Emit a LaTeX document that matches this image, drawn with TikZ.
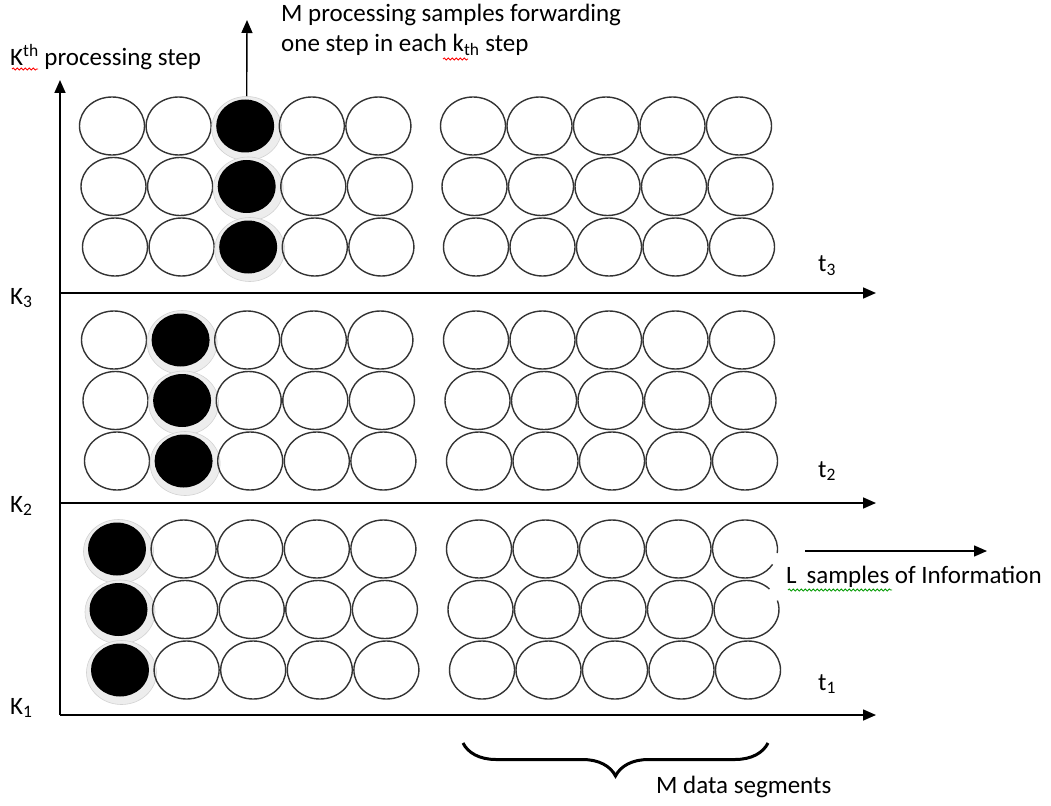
\documentclass[tikz,border=0pt]{standalone}
\usepackage{fontspec}
\setmainfont{Carlito}
\usetikzlibrary{arrows.meta,shapes.geometric,decorations.pathreplacing,decorations.pathmorphing}
\begin{document}
\begin{tikzpicture}[x=1pt,y=-1pt,
  cell/.style={ellipse,draw=black!80,line width=1.4pt,minimum width=65pt,minimum height=58pt,inner sep=0pt},
  halo/.style={ellipse,fill=gray!14,draw=gray!35,line width=0.6pt,minimum width=70pt,minimum height=64pt,inner sep=0pt},
  blk/.style={ellipse,fill=black,minimum width=58pt,minimum height=53pt,inner sep=0pt},
  axis/.style={line width=1.6pt,-{Triangle[length=13pt,width=11pt]}},
  lbl/.style={font=\fontsize{25}{30}\selectfont,inner sep=0pt,text=black},
  wavy/.style={decorate,decoration={snake,segment length=4pt,amplitude=1.1pt},line width=0.8pt}]

\useasboundingbox (0,0) rectangle (1051,805);

% circle grids: section / first row y / left group x / right group x / black column
\foreach \s/\yo/\xl/\xr/\bc in {3/126/112/473/3, 2/340/114/476/2, 1/549/117/479/1} {
  \foreach \r in {1,2,3} {
    \foreach \c in {1,...,10} {
      \pgfmathsetmacro{\yy}{\yo+(\r-1)*60.5}
      \ifnum\c<6
        \pgfmathsetmacro{\xx}{\xl+(\c-1)*66.6+(\r-1)*1.5}
      \else
        \pgfmathsetmacro{\xx}{\xr+(\c-6)*66.5+(\r-1)*1.5}
      \fi
      \ifnum\c=\bc
        \node[halo] (h\s-\r) at (\xx+1.5,\yy+2.5) {};
        \node[blk] (b\s-\r) at (\xx,\yy) {};
      \else
        \pgfmathtruncatemacro{\skip}{(\s==1)&&(\c==10)&&(\r<3)}
        \ifnum\skip=0
          \node[cell] (c\s-\r-\c) at (\xx,\yy) {};
        \else
          \coordinate (c\s-\r-\c) at (\xx,\yy);
        \fi
      \fi
    }
  }
}

% the two open circles at the end of the lowest section
\draw[draw=black!80,line width=1.4pt] ([shift={(-8:32.5pt and 29pt)}]c1-1-10)
  arc[start angle=-8,end angle=328,x radius=32.5pt,y radius=29pt];
\draw[draw=black!80,line width=1.4pt] ([shift={(45:32.5pt and 29pt)}]c1-2-10)
  arc[start angle=45,end angle=378,x radius=32.5pt,y radius=29pt];

% axes
\coordinate (O) at (60,715);
\coordinate (Ytip) at (60,80);
\coordinate (A3) at (60,293);
\coordinate (A2) at (60,503);
\coordinate (E3) at (876,293);
\coordinate (E2) at (876,503);
\coordinate (E1) at (876,715);
\draw[axis] (O) -- (Ytip);
\draw[axis] (A3) -- (E3);
\draw[axis] (A2) -- (E2);
\draw[axis] (O) -- (E1);

% upward arrow from the top black sample
\coordinate (Utip) at (247,20);
\draw[axis,line width=1.4pt] (h3-1.north) -- (Utip);

% L samples arrow
\coordinate (Ls) at (805,551);
\coordinate (Le) at (987,551);
\draw[axis,line width=1.4pt] (Ls) -- (Le);

% brace
\coordinate (Br) at (768,743);
\coordinate (Bl) at (463,743);
\draw[line width=3pt,decorate,decoration={brace,amplitude=33pt}] (Br) -- (Bl);

% labels
\node[lbl,anchor=west] (kth) at (10,57) {K\textsuperscript{th} processing step};
\node[lbl,anchor=west,align=left] (mproc) at (281,30) {M processing samples forwarding\\one step in each k\textsubscript{th} step};
\node[lbl,anchor=west] (k3) at (10,298) {K\textsubscript{3}};
\node[lbl,anchor=west] (k2) at (10,506) {K\textsubscript{2}};
\node[lbl,anchor=west] (k1) at (10,708) {K\textsubscript{1}};
\node[lbl,anchor=west] (t3) at (818,266) {t\textsubscript{3}};
\node[lbl,anchor=west] (t2) at (818,471) {t\textsubscript{2}};
\node[lbl,anchor=west] (t1) at (818,684) {t\textsubscript{1}};
\node[lbl,anchor=west] (lsamp) at (786,577) {L\, samples of Information};
\node[lbl,anchor=west] (mdata) at (656,787) {M data segments};

% spell-check underlines
\draw[wavy,red] (12,69) -- (38,69);
\draw[wavy,red] (443,59) -- (468,59);
\draw[wavy,green!60!black] (788,590) -- (892,590);
\end{tikzpicture}
\end{document}
